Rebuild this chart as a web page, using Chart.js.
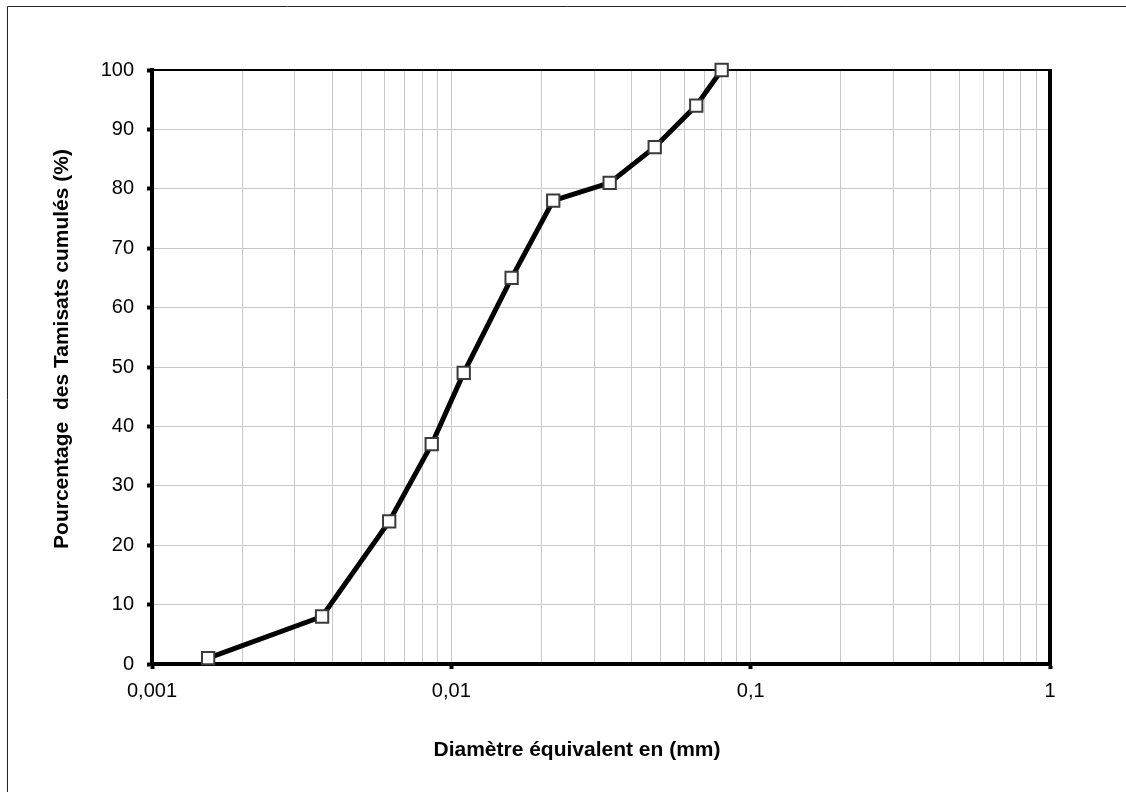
<!DOCTYPE html>
<html>
<head>
<meta charset="utf-8">
<script src="https://cdn.jsdelivr.net/npm/chart.js@4/dist/chart.umd.min.js"></script>
<style>
html,body{margin:0;padding:0;background:#fff;}
canvas{display:block;}
</style>
</head>
<body>
<canvas id="c" width="1126" height="792"></canvas>
<script>
// Data
const diameters = [0.00154, 0.0037, 0.0062, 0.0086, 0.011, 0.0159, 0.0219, 0.0338, 0.0478, 0.0658, 0.080];
const percents  = [1, 8, 24, 37, 49, 65, 78, 81, 87, 94, 100];

// Axis ticks
const xDecades = [0.001, 0.01, 0.1, 1];
const xDecadeLabels = ["0,001", "0,01", "0,1", "1"];
const minorMultipliers = [2, 3, 4, 5, 6, 7, 8, 9];
const yMin = 0, yMax = 100, yStep = 10;

const xTitle = "Diamètre équivalent en (mm)";
const yTitle = "Pourcentage  des Tamisats cumulés (%)";

const FONT = "'Liberation Sans', Arial, sans-serif";

const points = diameters.map((d, i) => ({x: d, y: percents[i]}));

function isDecade(v) {
  return xDecades.some(d => Math.abs(v - d) / d < 1e-6);
}

const decorPlugin = {
  id: 'decor',
  beforeDraw(chart) {
    const ctx = chart.ctx;
    ctx.save();
    ctx.fillStyle = '#fff';
    ctx.fillRect(0, 0, chart.width, chart.height);
    // outer frame (top and left visible)
    ctx.strokeStyle = '#222';
    ctx.lineWidth = 1;
    ctx.beginPath();
    ctx.moveTo(7.5, chart.height + 5);
    ctx.lineTo(7.5, 6.5);
    ctx.lineTo(chart.width + 5, 6.5);
    ctx.stroke();
    ctx.restore();
  },
  beforeDatasetsDraw(chart) {
    const ctx = chart.ctx;
    const a = chart.chartArea;
    ctx.save();
    ctx.strokeStyle = '#000';
    ctx.lineWidth = 2;
    ctx.beginPath();
    ctx.moveTo(a.left, a.top);
    ctx.lineTo(a.right, a.top);
    ctx.stroke();
    ctx.lineWidth = 4;
    ctx.beginPath();
    ctx.moveTo(a.right, a.top - 1);
    ctx.lineTo(a.right, a.bottom + 2);
    ctx.stroke();
    ctx.restore();
  },
  afterDraw(chart) {
    const ctx = chart.ctx;
    ctx.save();
    ctx.fillStyle = '#000';
    ctx.font = "bold 21px " + FONT;
    ctx.textAlign = 'center';
    ctx.textBaseline = 'middle';
    ctx.fillText(xTitle, 577, 750);
    ctx.translate(62, 349);
    ctx.rotate(-Math.PI / 2);
    ctx.fillText(yTitle, 0, 0);
    ctx.restore();
  }
};

new Chart(document.getElementById('c'), {
  type: 'line',
  data: {
    datasets: [{
      data: points,
      borderColor: '#000',
      borderWidth: 5,
      pointStyle: 'rect',
      pointRadius: 8.7,
      pointHoverRadius: 8.7,
      pointBackgroundColor: '#fff',
      pointBorderColor: '#3a3a3a',
      pointBorderWidth: 2,
      tension: 0,
      clip: false
    }]
  },
  options: {
    responsive: false,
    devicePixelRatio: 1,
    animation: false,
    events: [],
    layout: { padding: { top: 70, right: 76, left: 0, bottom: 0 } },
    plugins: { legend: { display: false }, tooltip: { enabled: false }, title: { display: false } },
    scales: {
      x: {
        type: 'logarithmic',
        min: xDecades[0],
        max: xDecades[xDecades.length - 1],
        afterBuildTicks(scale) {
          const t = [];
          for (let i = 0; i < xDecades.length; i++) {
            t.push({ value: xDecades[i] });
            if (i < xDecades.length - 1) {
              minorMultipliers.forEach(m => t.push({ value: xDecades[i] * m }));
            }
          }
          scale.ticks = t;
        },
        afterFit(scale) { scale.height = 128; },
        ticks: {
          autoSkip: false,
          maxRotation: 0,
          minRotation: 0,
          padding: 10,
          color: '#000',
          font: { family: FONT, size: 20 },
          callback(value) {
            const i = xDecades.findIndex(d => Math.abs(value - d) / d < 1e-6);
            return i >= 0 ? xDecadeLabels[i] : '';
          }
        },
        grid: {
          color: '#c8c8c8',
          lineWidth: 1,
          drawTicks: true,
          tickLength: 5,
          tickWidth: 4,
          tickColor: (ctx) => (ctx.tick && isDecade(ctx.tick.value)) ? '#000' : 'rgba(0,0,0,0)'
        },
        border: { display: true, color: '#000', width: 4 }
      },
      y: {
        type: 'linear',
        min: yMin,
        max: yMax,
        afterFit(scale) { scale.width = 152; },
        ticks: {
          stepSize: yStep,
          padding: 13,
          color: '#000',
          font: { family: FONT, size: 20 }
        },
        grid: {
          color: '#c8c8c8',
          lineWidth: 1,
          tickLength: 5,
          tickWidth: 4,
          tickColor: '#000'
        },
        border: { display: true, color: '#000', width: 4 }
      }
    }
  },
  plugins: [decorPlugin]
});
</script>
</body>
</html>
